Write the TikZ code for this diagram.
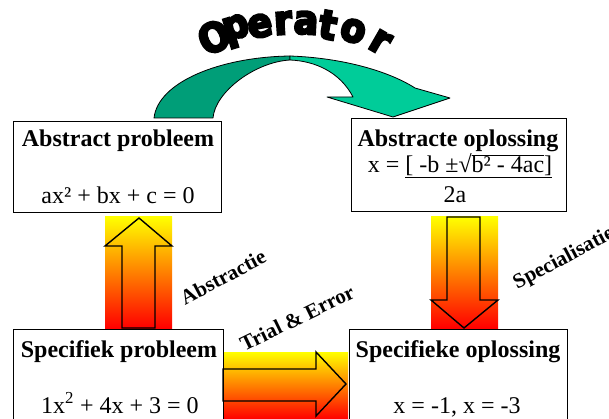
\documentclass[tikz,border=0pt]{standalone}
\usepackage{fontspec}
\setmainfont{Liberation Serif}
\font\opf="DejaVu Sans Bold:embolden=6;extend=0.9" at 40pt
\definecolor{gdark}{RGB}{0,158,120}
\definecolor{glight}{RGB}{0,204,153}
\begin{document}
\begin{tikzpicture}[x=1pt,y=-1pt,
  box/.style={draw, line width=1.4pt, inner sep=0pt, anchor=north west},
  head/.style={font=\fontsize{24}{24}\bfseries\selectfont, inner sep=0pt, anchor=base},
  formula/.style={font=\fontsize{24}{24}\selectfont, inner sep=0pt, anchor=base},
  lab/.style={font=\fontsize{21}{21}\bfseries\selectfont, inner sep=0pt},
  blockarrow/.style={draw, line width=1.4pt, line join=miter},
  grad/.style={top color=yellow, bottom color=red},
  opl/.style={font=\opf, inner sep=0pt},
  greenpart/.style={draw, line width=0.8pt, line join=round}]
\path[use as bounding box, clip] (0,0) rectangle (609,419);
\fill[white] (0,0) rectangle (609,419);

% gradient backgrounds of block arrows
\shade[grad] (105,217) rectangle (172,328);
\shade[grad] (431,217) rectangle (498,328);
\shade[grad] (224,352) rectangle (348,419);

% block arrow outlines
\draw[blockarrow] (139,218) -- (172,246) -- (155,246) -- (155,328) -- (122,328) -- (122,246) -- (105,246) -- cycle;
\draw[blockarrow] (447,217) -- (480,217) -- (480,300) -- (498,300) -- (464,328) -- (431,300) -- (447,300) -- cycle;
\draw[blockarrow] (223,369) -- (316,369) -- (316,352) -- (346,384) -- (316,416) -- (316,401) -- (223,401) -- cycle;

% boxes
\node[box, minimum width=208pt, minimum height=91pt] (ap) at (13,121) {};
\node[box, minimum width=215pt, minimum height=93pt] (ao) at (351,118) {};
\node[box, minimum width=210pt, minimum height=100pt] (sp) at (13,329) {};
\node[box, minimum width=218pt, minimum height=100pt] (so) at (349,329) {};

% box texts
\node[head] (t1) at (118,147) {Abstract probleem};
\node[formula] (f1) at (118,204) {ax² + bx + c = 0};
\node[head] (t2) at (458,147) {Abstracte oplossing};
\node[formula] (f2) at (460,173) {x = \underline{[ -b ±√$\overline{\hbox{b² - 4ac}}$]}};
\node[formula] (f2b) at (455,203) {2a};
\node[head] (t3) at (119,357) {Specifiek probleem};
\node[formula] (f3) at (120,413) {1x\textsuperscript{2} + 4x + 3 = 0};
\node[head] (t4) at (458,357) {Specifieke oplossing};
\node[formula] (f4) at (457,413) {x = -1, x = -3};

% rotated labels
\node[lab, rotate=28] (la) at (223,277) {Abstractie};
\node[lab, rotate=26] (lt) at (297,318) {Trial \& Error};
\node[lab, rotate=28] (ls) at (564,259) {Specialisatie};

% curved operator arrow
\path[greenpart, fill=gdark] (154,118) .. controls (158,82) and (220,57) .. (290,56) -- (290,60) .. controls (255,62) and (215,92) .. (213,118) -- cycle;
\path[greenpart, fill=glight] (290,56) .. controls (345,58) and (390,72) .. (415,88) -- (450,98) -- (393,117) -- (327,97) -- (353,97) .. controls (340,72) and (315,61) .. (290,60) -- cycle;

% Operator word art
\node[opl, rotate=25] (o1) at (214,37) {O};
\node[opl, rotate=17] (o2) at (237,31) {p};
\node[opl, rotate=10] (o3) at (260,26) {e};
\node[opl, rotate=4] (o4) at (283,23) {r};
\node[opl, rotate=-3] (o5) at (306,23) {a};
\node[opl, rotate=-10] (o6) at (328,25) {t};
\node[opl, rotate=-18] (o7) at (353,31) {o};
\node[opl, rotate=-30] (o8) at (380,42) {r};
\end{tikzpicture}
\end{document}
